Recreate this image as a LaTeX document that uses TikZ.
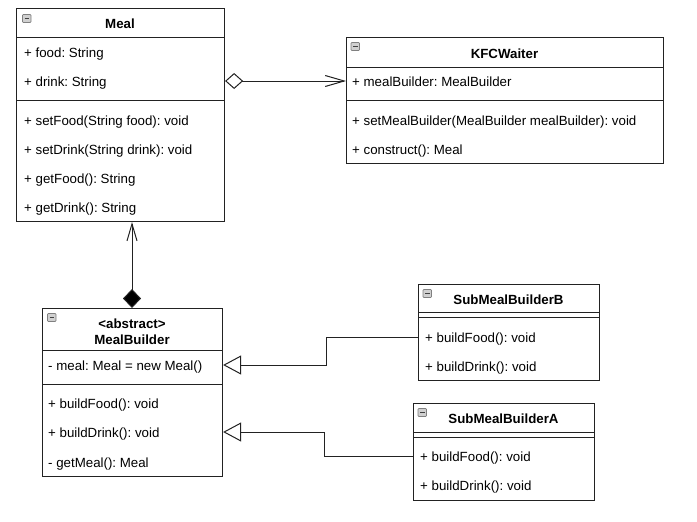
\documentclass[tikz,border=0pt]{standalone}
\usepackage{fontspec}
\setmainfont{Liberation Sans}
\usetikzlibrary{arrows.meta}
\definecolor{lc}{HTML}{222222}
\definecolor{btnfill}{HTML}{D0D0D0}
\definecolor{btnline}{HTML}{808080}
\frenchspacing
\begin{document}
\begin{tikzpicture}[x=1pt,y=-1pt,
  umlbox/.style={draw=lc, line width=1.1pt, fill=white, inner sep=0pt, anchor=north west},
  sepline/.style={draw=lc, line width=1pt},
  attr/.style={anchor=base west, inner sep=0pt, yshift=-1pt, font=\fontsize{13.3}{15}\selectfont\frenchspacing},
  ttl/.style={anchor=base, inner sep=0pt, yshift=-1pt, font=\fontsize{13.3}{15}\selectfont\bfseries, align=center},
  conn/.style={draw=lc, line width=1pt},
  btn/.style={draw=btnline, fill=btnfill, line width=0.7pt, rounded corners=0.8pt}
]
\fill[white] (0,0) rectangle (697,522);
\useasboundingbox (0,0) rectangle (697,522);

\newcommand\uibtn[2]{%
  \draw[btn] (#1,#2) rectangle ++(8.5,8);
  \draw[black!75, line width=0.9pt] (#1+2,#2+4) -- ++(4.5,0);}

% ---------- Meal ----------
\node[umlbox, minimum width=208pt, minimum height=213pt] (meal) at (16,8) {};
\uibtn{22.5}{14.5}
\node[ttl] (mealT) at (120,27.8) {Meal};
\draw[sepline] (16,37) -- (224,37);
\node[attr] (mfood) at (24,56.8) {+ food: String};
\node[attr] (mdrink) at (24,85.8) {+ drink: String};
\draw[sepline] (16,100) -- (224,100);
\node[attr] (m1) at (24,124.8) {+ setFood(String food): void};
\node[attr] (m2) at (24,153.8) {+ setDrink(String drink): void};
\node[attr] (m3) at (24,182.8) {+ getFood(): String};
\node[attr] (m4) at (24,211.8) {+ getDrink(): String};

% ---------- KFCWaiter ----------
\node[umlbox, minimum width=317pt, minimum height=126pt] (kfc) at (346,37) {};
\uibtn{351}{42.5}
\node[ttl] (kfcT) at (504.5,57.3) {KFCWaiter};
\draw[sepline] (346,67) -- (663,67);
\node[attr] (kattr) at (352,85.8) {+ mealBuilder: MealBuilder};
\draw[sepline] (346,100) -- (663,100);
\node[attr] (k1) at (352,124.8) {+ setMealBuilder(MealBuilder mealBuilder): void};
\node[attr] (k2) at (352,153.8) {+ construct(): Meal};

% ---------- MealBuilder ----------
\node[umlbox, minimum width=180pt, minimum height=168pt] (mb) at (42,308) {};
\uibtn{47.5}{313.5}
\node[ttl] (mbT1) at (132,327.5) {<abstract>};
\node[ttl] (mbT2) at (132,343.5) {MealBuilder};
\draw[sepline] (42,350) -- (222,350);
\node[attr] (mbattr) at (48,369.8) {- meal: Meal = new Meal()};
\draw[sepline] (42,384) -- (222,384);
\node[attr] (mb1) at (48,407.8) {+ buildFood(): void};
\node[attr] (mb2) at (48,436.8) {+ buildDrink(): void};
\node[attr] (mb3) at (48,466.8) {- getMeal(): Meal};

% ---------- SubMealBuilderB ----------
\node[umlbox, minimum width=181pt, minimum height=96pt] (sb) at (418,284) {};
\uibtn{423}{289.5}
\node[ttl] (sbT) at (508.5,303.8) {SubMealBuilderB};
\draw[sepline] (418,312) -- (599,312);
\draw[sepline] (418,317) -- (599,317);
\node[attr] (sb1) at (425,341.8) {+ buildFood(): void};
\node[attr] (sb2) at (425,370.8) {+ buildDrink(): void};

% ---------- SubMealBuilderA ----------
\node[umlbox, minimum width=181pt, minimum height=97pt] (sa) at (413,403) {};
\uibtn{418}{408.5}
\node[ttl] (saT) at (503.5,422.8) {SubMealBuilderA};
\draw[sepline] (413,432) -- (594,432);
\draw[sepline] (413,437) -- (594,437);
\node[attr] (sa1) at (420,460.8) {+ buildFood(): void};
\node[attr] (sa2) at (420,489.8) {+ buildDrink(): void};

% ---------- connectors ----------
\coordinate (yagg) at (0,81);
\draw[conn, {Diamond[open,fill=white,length=18pt,width=16pt]}-{Straight Barb[length=19pt,width=11pt]}]
  (meal.east |- yagg) -- (kfc.west |- yagg);

\coordinate (cx) at (132,0);
\draw[conn, {Diamond[fill=black,length=19pt,width=18pt]}-{Straight Barb[length=17pt,width=10pt]}]
  (mb.north -| cx) -- (meal.south -| cx);

\coordinate (bend1) at (326,337);
\coordinate (yB) at (0,365);
\draw[conn, -{Triangle[open,fill=white,length=18pt,width=19pt]}]
  (sb.west |- bend1) -- (bend1) -- (bend1 |- yB) -- (mb.east |- yB);

\coordinate (bend2) at (324,456);
\coordinate (yA) at (0,432);
\draw[conn, -{Triangle[open,fill=white,length=18pt,width=19pt]}]
  (sa.west |- bend2) -- (bend2) -- (bend2 |- yA) -- (mb.east |- yA);
\end{tikzpicture}
\end{document}
